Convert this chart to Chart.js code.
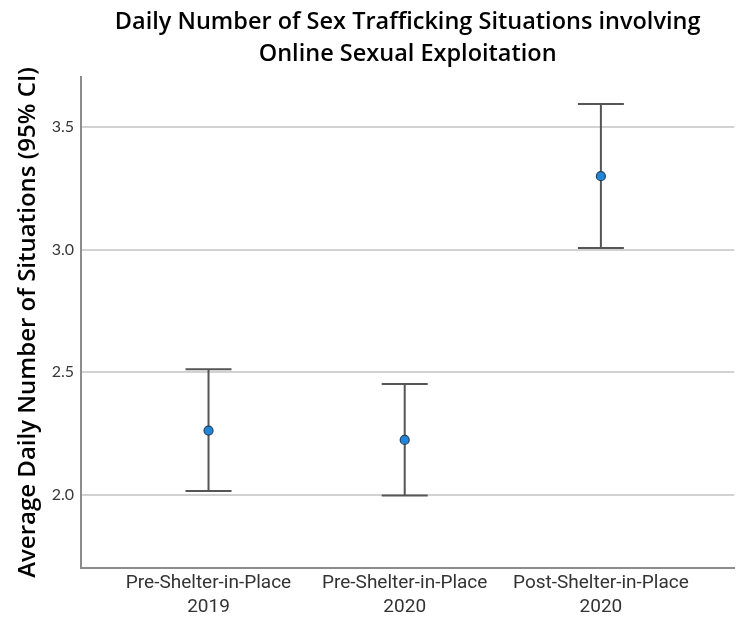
<!DOCTYPE html>
<html>
<head>
<meta charset="utf-8">
<script src="https://cdn.jsdelivr.net/npm/chart.js@4.4.0/dist/chart.umd.min.js"></script>
<style>
  html, body { margin: 0; padding: 0; background: #ffffff; }
  #wrap { width: 740px; height: 621px; }
</style>
</head>
<body>
<div id="wrap"><canvas id="chart"></canvas></div>
<script>
// Groups along the x axis (two-line labels)
const categories = [
  ['Pre-Shelter-in-Place', '2019'],
  ['Pre-Shelter-in-Place', '2020'],
  ['Post-Shelter-in-Place', '2020']
];
// Mean daily count and its 95% confidence interval
const meanValues = [2.261, 2.223, 3.300];
const lowerCI = [2.014, 1.996, 3.007];
const upperCI = [2.512, 2.451, 3.595];
// Y axis tick values
const yTicks = [2.0, 2.5, 3.0, 3.5];

const points = meanValues.map((v, i) => ({ x: i, y: v }));

// Draws the confidence-interval whiskers with caps, behind the points
const errorBars = {
  id: 'errorBars',
  beforeDatasetsDraw(chart) {
    const { ctx, scales: { x, y } } = chart;
    ctx.save();
    ctx.strokeStyle = '#555555';
    ctx.lineWidth = 2;
    const capHalf = 23;
    meanValues.forEach((_, i) => {
      const px = x.getPixelForValue(i);
      const yLo = y.getPixelForValue(lowerCI[i]);
      const yHi = y.getPixelForValue(upperCI[i]);
      ctx.beginPath();
      ctx.moveTo(px, yHi);
      ctx.lineTo(px, yLo);
      ctx.moveTo(px - capHalf, yHi);
      ctx.lineTo(px + capHalf, yHi);
      ctx.moveTo(px - capHalf, yLo);
      ctx.lineTo(px + capHalf, yLo);
      ctx.stroke();
    });
    ctx.restore();
  }
};

new Chart(document.getElementById('chart'), {
  type: 'scatter',
  data: {
    datasets: [{
      data: points,
      pointRadius: 4.5,
      pointHoverRadius: 4.5,
      pointBackgroundColor: '#1f86da',
      pointBorderColor: '#24425f',
      pointBorderWidth: 1.2
    }]
  },
  plugins: [errorBars],
  options: {
    responsive: true,
    maintainAspectRatio: false,
    animation: false,
    layout: { padding: { left: 0, right: 5, top: 0, bottom: 0 } },
    plugins: {
      legend: { display: false },
      tooltip: { enabled: false },
      title: {
        display: true,
        fullSize: false,
        text: ['Daily Number of Sex Trafficking Situations involving', 'Online Sexual Exploitation'],
        color: '#000000',
        font: { family: '"Open Sans", sans-serif', size: 23.5, weight: '600', lineHeight: '32px' },
        padding: { top: 6, bottom: 7 }
      }
    },
    scales: {
      x: {
        type: 'linear',
        min: -0.65,
        max: 2.68,
        afterBuildTicks(scale) {
          scale.ticks = categories.map((_, i) => ({ value: i }));
        },
        afterFit(scale) { scale.height = 53; },
        ticks: {
          callback: (v) => categories[v],
          color: '#333333',
          font: { family: 'Roboto, sans-serif', size: 19, lineHeight: '24px' },
          padding: 3,
          maxRotation: 0,
          autoSkip: false
        },
        grid: { display: false, drawTicks: false },
        border: { display: true, color: '#8c8c8c', width: 2 }
      },
      y: {
        min: 1.70,
        max: 3.705,
        afterBuildTicks(scale) {
          scale.ticks = yTicks.map(v => ({ value: v }));
        },
        afterFit(scale) { scale.width = 81; },
        ticks: {
          callback: (v) => v.toFixed(1),
          color: '#383838',
          font: { family: 'Lato, sans-serif', size: 16 },
          padding: 7
        },
        grid: { color: '#d2d2d2', lineWidth: 2, drawTicks: false },
        border: { display: true, color: '#8c8c8c', width: 2 },
        title: {
          display: true,
          text: 'Average Daily Number of Situations (95% CI)',
          color: '#000000',
          font: { family: '"Open Sans", sans-serif', size: 24, weight: '600' },
          padding: { top: 14, bottom: 0 }
        }
      }
    }
  }
});
</script>
</body>
</html>
